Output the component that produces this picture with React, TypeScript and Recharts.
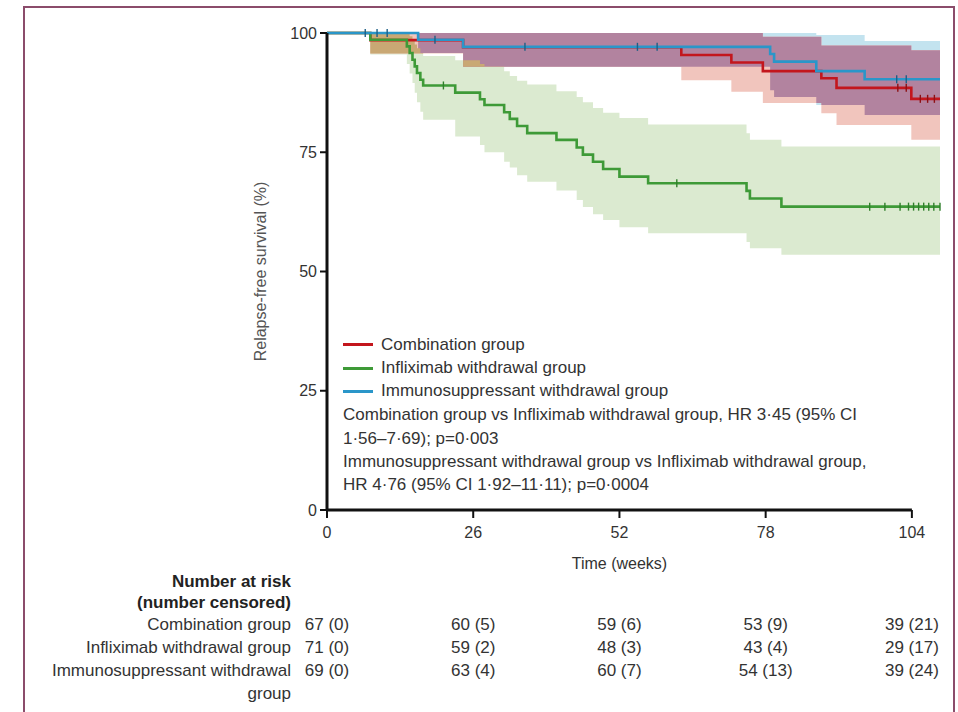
import React from "react";
import { ComposedChart, Area, Line, Scatter, XAxis, YAxis, ReferenceLine, Legend } from "recharts";

// ---------------- data ----------------
const followUpEnd = 109;
const timeTicks = [0, 26, 52, 78, 104];
const survivalTicks = [0, 25, 50, 75, 100];

const seriesNames = ["Combination group", "Infliximab withdrawal group", "Immunosuppressant withdrawal group"];

// Combination group (red)
const combinationTimes = [0, 7.7, 24.2, 63.0, 71.9, 77.5, 87.9, 90.6, 103.9];
const combinationSurvival = [100, 98.5, 97.0, 95.4, 93.8, 92.0, 90.5, 88.5, 86.2];
const combinationLower = [100, 95.7, 92.9, 90.1, 87.7, 85.3, 83.2, 80.7, 77.6];
const combinationUpper = [100, 100, 100, 100, 100, 99.2, 97.4, 97.4, 96.4];

// Immunosuppressant withdrawal group (blue)
const immunoTimes = [0, 16.2, 24.2, 78.8, 79.5, 87.0, 95.6];
const immunoSurvival = [100, 98.6, 97.1, 95.6, 94.0, 92.0, 90.3];
const immunoLower = [100, 95.8, 92.9, 88.0, 86.6, 84.9, 82.8];
const immunoUpper = [100, 100, 100, 100, 100, 99.6, 98.3];

// Infliximab withdrawal group (green)
const infliximabTimes = [0, 7.7, 14.2, 14.7, 15.2, 15.6, 16.0, 16.6, 17.1, 22.8, 27.2, 28.0, 31.5, 32.5, 33.8, 35.6, 40.8, 44.4, 45.5, 47.3, 49.1, 52.0, 57.1, 74.6, 75.2, 80.8];
const infliximabSurvival = [100, 98.6, 97.2, 95.8, 94.4, 93.0, 91.6, 90.2, 89.0, 87.5, 86.1, 84.9, 83.4, 82.0, 80.5, 79.0, 77.6, 76.0, 74.5, 73.0, 71.5, 69.9, 68.5, 66.9, 65.3, 63.6];
const infliximabLower = [100, 95.5, 93.5, 91.5, 89.5, 87.5, 85.5, 83.5, 81.8, 78.3, 76.5, 75.0, 73.0, 71.8, 70.2, 68.8, 67.0, 65.0, 63.5, 62.0, 60.8, 59.3, 58.0, 56.2, 54.9, 53.5];
const infliximabUpper = [100, 100, 99.8, 99.3, 98.5, 97.6, 96.8, 95.8, 95.2, 94.3, 93.5, 93.0, 92.0, 91.0, 90.0, 89.2, 87.8, 86.6, 85.5, 84.3, 83.3, 82.2, 80.8, 79.0, 77.6, 76.2];

// censoring marks (weeks)
const combinationCensorTimes = [101.5, 103.0, 105.5, 106.8, 108.0];
const immunoCensorTimes = [6.8, 8.9, 10.7, 19.2, 35.2, 55.2, 58.7, 101.3, 103.0];
const infliximabCensorTimes = [20.7, 62.2, 96.5, 99.2, 101.9, 103.4, 104.3, 105.2, 106.1, 107.0, 107.9, 109.0];

// number at risk (number censored)
const combinationAtRisk = [67, 60, 59, 53, 39];
const combinationCensored = [0, 5, 6, 9, 21];
const infliximabAtRisk = [71, 59, 48, 43, 29];
const infliximabCensored = [0, 2, 3, 4, 17];
const immunoAtRisk = [69, 63, 60, 54, 39];
const immunoCensored = [0, 4, 7, 13, 24];

const statLines = [
  "Combination group vs Infliximab withdrawal group, HR 3·45 (95% CI",
  "1·56–7·69); p=0·003",
  "Immunosuppressant withdrawal group vs Infliximab withdrawal group,",
  "HR 4·76 (95% CI 1·92–11·11); p=0·0004",
];

// ---------------- styles ----------------
const COLORS = {
  combination: "#c3161d",
  infliximab: "#3e9a37",
  immuno: "#2a96c9",
  infliximabBand: "#dbead0",
  immunoBand: "#c3e3ef",
  combinationBand: "#f1c5bd",
  overlapCI: "#b2839f",
  overlapCG: "#c9a874",
};
const TEXT = "#333";
const FONT = "'Liberation Sans', Arial, sans-serif";

// ---------------- helpers ----------------
function stepValue(times: number[], values: number[], t: number): number {
  let v = values[0];
  for (let i = 0; i < times.length; i++) {
    if (times[i] <= t + 1e-9) v = values[i];
  }
  return v;
}

const allTimes = Array.from(
  new Set([...combinationTimes, ...immunoTimes, ...infliximabTimes, followUpEnd])
).sort((a, b) => a - b);

const rows = allTimes.map((t) => {
  const cS = stepValue(combinationTimes, combinationSurvival, t);
  const cL = stepValue(combinationTimes, combinationLower, t);
  const cU = stepValue(combinationTimes, combinationUpper, t);
  const iS = stepValue(immunoTimes, immunoSurvival, t);
  const iL = stepValue(immunoTimes, immunoLower, t);
  const iU = stepValue(immunoTimes, immunoUpper, t);
  const gS = stepValue(infliximabTimes, infliximabSurvival, t);
  const gL = stepValue(infliximabTimes, infliximabLower, t);
  const gU = stepValue(infliximabTimes, infliximabUpper, t);
  const ciLo = Math.max(cL, iL);
  const ciHi = Math.max(ciLo, Math.min(cU, iU));
  const cgLo = Math.max(cL, gL);
  const cgHi = Math.max(cgLo, Math.min(cU, gU));
  return {
    t,
    combination: cS,
    immuno: iS,
    infliximab: gS,
    combinationBand: [cL, cU],
    immunoBand: [iL, iU],
    infliximabBand: [gL, gU],
    overlapCI: [ciLo, ciHi],
    overlapCG: [cgLo, cgHi],
  };
});

const censorPoints = (times: number[], stepTimes: number[], surv: number[]) =>
  times.map((t) => ({ t, s: stepValue(stepTimes, surv, t) }));

const combinationCensors = censorPoints(combinationCensorTimes, combinationTimes, combinationSurvival);
const immunoCensors = censorPoints(immunoCensorTimes, immunoTimes, immunoSurvival);
const infliximabCensors = censorPoints(infliximabCensorTimes, infliximabTimes, infliximabSurvival);

const censorShape = (color: string) => (props: any) => {
  const { cx, cy } = props;
  if (cx == null || cy == null) return <g />;
  return <line x1={cx} x2={cx} y1={cy - 4} y2={cy + 4} stroke={color} strokeWidth={1.4} />;
};

const riskFormatter = (atRisk: number[], censored: number[]) => (v: number) => {
  const i = timeTicks.indexOf(v);
  return i < 0 ? "" : `${atRisk[i]} (${censored[i]})`;
};

type RowLine = { text: string; dy: number; bold?: boolean };
const makeRowLabel = (lines: RowLine[]) => (props: any) => {
  const vb = props.viewBox || {};
  if (vb.x == null) return null;
  return (
    <g>
      {lines.map((ln, i) => (
        <text
          key={i}
          x={vb.x - 36}
          y={vb.y + ln.dy}
          textAnchor="end"
          dominantBaseline="central"
          fontSize={17}
          fontWeight={ln.bold ? 700 : 400}
          fill={ln.bold ? "#222" : TEXT}
          fontFamily={FONT}
        >
          {ln.text}
        </text>
      ))}
    </g>
  );
};

const timeLabel = (props: any) => {
  const vb = props.viewBox || {};
  if (vb.x == null) return null;
  return (
    <text
      x={vb.x + (vb.width * timeTicks[2]) / followUpEnd}
      y={vb.y + 53}
      textAnchor="middle"
      dominantBaseline="central"
      fontSize={16}
      fill={TEXT}
      fontFamily={FONT}
    >
      Time (weeks)
    </text>
  );
};

const survivalLabel = (props: any) => {
  const vb = props.viewBox || {};
  if (vb.x == null) return null;
  const x = vb.x + 13;
  const y = vb.y + vb.height / 2;
  return (
    <text
      x={x}
      y={y}
      transform={`rotate(-90, ${x}, ${y})`}
      textAnchor="middle"
      dominantBaseline="central"
      fontSize={16}
      fill="#555"
      fontFamily={FONT}
    >
      Relapse-free survival (%)
    </text>
  );
};

const renderLegend = (props: any) => {
  const items = (props.payload || [])
    .filter((p: any) => seriesNames.includes(p.value))
    .sort((a: any, b: any) => seriesNames.indexOf(a.value) - seriesNames.indexOf(b.value));
  return (
    <div style={{ fontSize: 17, color: TEXT, textAlign: "left", fontFamily: FONT }}>
      {items.map((it: any) => (
        <div key={it.value} style={{ display: "flex", alignItems: "center", height: 23.4, whiteSpace: "nowrap" }}>
          <span style={{ display: "inline-block", width: 30, height: 3, background: it.color, marginRight: 8 }} />
          <span>{it.value}</span>
        </div>
      ))}
      {statLines.map((l) => (
        <div key={l} style={{ height: 23.4, lineHeight: "23.4px", whiteSpace: "nowrap" }}>
          {l}
        </div>
      ))}
    </div>
  );
};

// axis ids are ordered so that the bottom axes stack in the intended order
const AX_TIME = "a_time";
const AX_RISK_COMB = "b_riskCombination";
const AX_RISK_INF = "c_riskInfliximab";
const AX_RISK_IMM = "d_riskImmuno";

export default function App() {
  return (
    <div style={{ position: "absolute", left: 0, top: 0, width: 958, height: 712, background: "#fff", fontFamily: FONT, overflow: "hidden" }}>
      <div
        style={{
          position: "absolute",
          left: 23,
          top: 6,
          width: 932,
          height: 730,
          boxSizing: "border-box",
          borderLeft: "2px solid #8b4c6b",
          borderTop: "2px solid #8b4c6b",
          borderRight: "2px solid #8b4c6b",
          pointerEvents: "none",
        }}
      />
      <ComposedChart width={958} height={712} data={rows} margin={{ top: 33, right: 18, bottom: 36, left: 247 }}>
        <XAxis
          xAxisId={AX_TIME}
          dataKey="t"
          type="number"
          domain={[0, followUpEnd]}
          ticks={timeTicks}
          interval={0}
          axisLine={false}
          tickLine={{ stroke: "#111", strokeWidth: 2 }}
          tickSize={8}
          tickMargin={9}
          height={60}
          tick={{ fill: TEXT, fontSize: 16 }}
          label={timeLabel}
        />
        <XAxis
          xAxisId={AX_RISK_COMB}
          dataKey="t"
          type="number"
          domain={[0, followUpEnd]}
          ticks={timeTicks}
          interval={0}
          axisLine={false}
          tickLine={false}
          tickSize={46}
          tickMargin={2}
          height={60}
          tick={{ fill: TEXT, fontSize: 17 }}
          tickFormatter={riskFormatter(combinationAtRisk, combinationCensored)}
          label={makeRowLabel([
            { text: "Number at risk", dy: 11, bold: true },
            { text: "(number censored)", dy: 32, bold: true },
            { text: seriesNames[0], dy: 54 },
          ])}
        />
        <XAxis
          xAxisId={AX_RISK_INF}
          dataKey="t"
          type="number"
          domain={[0, followUpEnd]}
          ticks={timeTicks}
          interval={0}
          axisLine={false}
          tickLine={false}
          tickSize={9}
          tickMargin={2}
          height={23}
          tick={{ fill: TEXT, fontSize: 17 }}
          tickFormatter={riskFormatter(infliximabAtRisk, infliximabCensored)}
          label={makeRowLabel([{ text: seriesNames[1], dy: 17 }])}
        />
        <XAxis
          xAxisId={AX_RISK_IMM}
          dataKey="t"
          type="number"
          domain={[0, followUpEnd]}
          ticks={timeTicks}
          interval={0}
          axisLine={false}
          tickLine={false}
          tickSize={9}
          tickMargin={2}
          height={23}
          tick={{ fill: TEXT, fontSize: 17 }}
          tickFormatter={riskFormatter(immunoAtRisk, immunoCensored)}
          label={makeRowLabel([
            { text: "Immunosuppressant withdrawal", dy: 17 },
            { text: "group", dy: 40 },
          ])}
        />
        <YAxis
          yAxisId="s"
          type="number"
          domain={[0, 100]}
          ticks={survivalTicks}
          interval={0}
          width={80}
          axisLine={{ stroke: "#111", strokeWidth: 3 }}
          tickLine={{ stroke: "#111", strokeWidth: 2 }}
          tickSize={7}
          tickMargin={3}
          tick={{ fill: TEXT, fontSize: 16 }}
          label={survivalLabel}
        />

        <Area xAxisId={AX_TIME} yAxisId="s" type="stepAfter" dataKey="infliximabBand" fill={COLORS.infliximabBand} fillOpacity={1} stroke="none" legendType="none" isAnimationActive={false} activeDot={false} />
        <Area xAxisId={AX_TIME} yAxisId="s" type="stepAfter" dataKey="immunoBand" fill={COLORS.immunoBand} fillOpacity={1} stroke="none" legendType="none" isAnimationActive={false} activeDot={false} />
        <Area xAxisId={AX_TIME} yAxisId="s" type="stepAfter" dataKey="combinationBand" fill={COLORS.combinationBand} fillOpacity={1} stroke="none" legendType="none" isAnimationActive={false} activeDot={false} />
        <Area xAxisId={AX_TIME} yAxisId="s" type="stepAfter" dataKey="overlapCI" fill={COLORS.overlapCI} fillOpacity={1} stroke="none" legendType="none" isAnimationActive={false} activeDot={false} />
        <Area xAxisId={AX_TIME} yAxisId="s" type="stepAfter" dataKey="overlapCG" fill={COLORS.overlapCG} fillOpacity={1} stroke="none" legendType="none" isAnimationActive={false} activeDot={false} />

        <ReferenceLine
          xAxisId={AX_TIME}
          yAxisId="s"
          segment={[{ x: timeTicks[0], y: 0 }, { x: timeTicks[timeTicks.length - 1], y: 0 }]}
          stroke="#111"
          strokeWidth={3}
          ifOverflow="visible"
        />

        <Line xAxisId={AX_TIME} yAxisId="s" type="stepAfter" dataKey="combination" name={seriesNames[0]} stroke={COLORS.combination} strokeWidth={2.6} dot={false} activeDot={false} isAnimationActive={false} />
        <Line xAxisId={AX_TIME} yAxisId="s" type="stepAfter" dataKey="infliximab" name={seriesNames[1]} stroke={COLORS.infliximab} strokeWidth={2.6} dot={false} activeDot={false} isAnimationActive={false} />
        <Line xAxisId={AX_TIME} yAxisId="s" type="stepAfter" dataKey="immuno" name={seriesNames[2]} stroke={COLORS.immuno} strokeWidth={2.6} dot={false} activeDot={false} isAnimationActive={false} />

        <Scatter xAxisId={AX_TIME} yAxisId="s" data={infliximabCensors} dataKey="s" shape={censorShape("#2f7f2a")} legendType="none" isAnimationActive={false} />
        <Scatter xAxisId={AX_TIME} yAxisId="s" data={combinationCensors} dataKey="s" shape={censorShape("#8e1014")} legendType="none" isAnimationActive={false} />
        <Scatter xAxisId={AX_TIME} yAxisId="s" data={immunoCensors} dataKey="s" shape={censorShape("#1d5f86")} legendType="none" isAnimationActive={false} />

        <Legend
          content={renderLegend}
          layout="horizontal"
          align="center"
          verticalAlign="middle"
          wrapperStyle={{ left: 343, top: 333, width: 600 }}
        />
      </ComposedChart>
    </div>
  );
}
